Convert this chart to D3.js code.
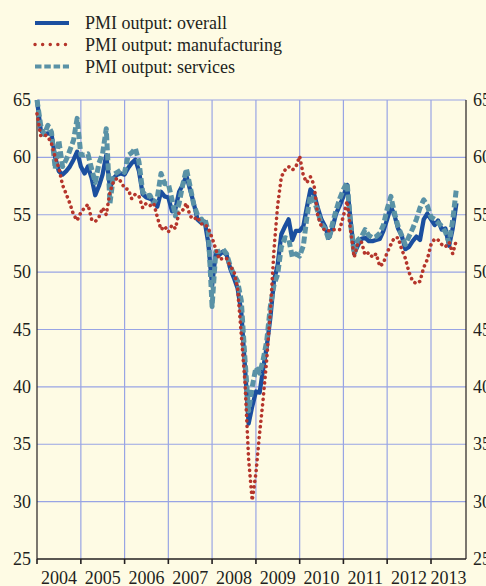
<!DOCTYPE html>
<html><head><meta charset="utf-8">
<script src="https://cdn.jsdelivr.net/npm/d3@7"></script>
<style>
html,body{margin:0;padding:0;background:#fefbe4;}
svg{display:block;}
text{font-family:"Liberation Serif","Times New Roman",serif;fill:#231f20;}
</style></head>
<body>
<div id="chart"></div>
<script>
// Monthly data, January 2004 onwards
const startYear = 2004, startMonth = 0;
const seriesNames = ["PMI output: overall", "PMI output: manufacturing", "PMI output: services"];
const overall = [
65.0,62.4,62.0,62.1,62.0,60.0,58.8,58.5,58.8,59.2,59.8,60.5,
59.2,58.6,59.2,58.2,56.7,57.5,58.5,60.2,57.3,58.2,58.5,58.6,
58.5,59.1,59.5,59.8,58.8,56.8,56.5,56.4,56.2,55.7,57.0,56.6,
56.5,55.3,55.5,57.0,57.6,58.4,57.2,56.0,54.6,54.3,54.4,52.5,
48.8,51.7,51.5,51.8,51.5,50.3,49.5,48.6,46.5,41.8,36.8,38.3,
39.6,39.5,41.5,43.5,46.0,49.3,50.6,53.3,54.0,54.6,52.8,53.6,
53.6,54.0,55.6,57.2,56.8,55.6,54.6,54.0,53.0,53.8,55.1,55.8,
56.6,57.6,54.6,51.6,52.3,52.9,53.0,52.7,52.7,52.8,52.9,53.6,
54.6,55.7,55.0,53.8,53.2,52.0,52.2,52.7,53.1,52.8,54.6,55.1,
54.6,54.1,54.5,53.7,53.8,52.3,53.8,56.0];
const manufacturing = [
63.8,61.9,62.0,61.8,61.2,60.0,59.1,57.6,56.8,56.0,55.0,54.5,
55.2,55.6,55.9,54.6,54.4,54.8,55.6,55.0,57.0,57.9,58.2,57.9,
57.3,57.2,56.4,56.8,56.6,55.6,56.0,55.8,56.0,54.8,53.7,54.0,
53.5,54.1,53.8,55.2,55.4,56.0,54.9,54.6,54.8,54.2,54.2,53.8,
53.0,52.0,51.1,51.2,51.2,50.5,50.1,48.6,44.5,40.5,33.7,30.1,
32.5,36.0,38.8,42.4,46.5,52.0,55.8,58.3,58.9,59.2,58.9,59.2,
60.1,58.4,57.8,58.3,57.6,54.9,54.0,53.6,53.6,53.7,53.7,53.7,
54.9,56.2,53.7,51.3,52.5,52.6,51.5,51.7,51.3,51.6,50.5,50.8,
51.7,52.4,53.0,53.0,52.0,51.2,50.0,49.2,49.0,49.2,50.4,51.1,
52.4,52.9,52.8,52.4,52.2,52.6,51.6,52.8];
const services = [
65.0,62.8,62.0,62.8,62.2,59.0,61.5,59.2,59.8,60.6,61.5,63.4,
60.2,60.2,60.3,59.0,57.8,59.5,60.3,62.5,56.0,58.5,58.7,58.9,
58.7,60.2,60.4,60.8,59.6,57.0,56.6,56.7,56.0,56.5,58.6,57.7,
57.7,56.3,54.9,56.0,57.6,59.0,57.5,55.9,55.0,54.5,54.7,53.5,
47.0,51.8,51.8,52.0,51.6,50.5,49.8,49.2,47.5,42.5,37.9,40.0,
41.7,41.2,42.3,44.0,47.0,48.9,49.8,52.2,53.0,52.9,51.3,51.6,
51.4,52.3,54.7,56.7,56.2,55.3,54.2,53.8,52.8,54.2,55.4,56.4,
57.2,57.8,54.3,51.6,52.8,53.1,53.7,53.2,53.0,53.1,53.4,54.1,
55.5,56.6,55.2,54.0,53.2,52.4,53.1,53.8,54.6,55.6,56.3,55.8,
54.8,54.6,54.3,54.0,53.5,52.6,54.5,57.3];
const yTicks = [25,30,35,40,45,50,55,60,65];
const yearLabels = ["2004","2005","2006","2007","2008","2009","2010","2011","2012","2013"];

const W = 486, H = 586;
const svg = d3.select("#chart").append("svg").attr("width", W).attr("height", H);
svg.append("rect").attr("width", W).attr("height", H).attr("fill", "#fefbe4");

const x = d3.scaleTime().domain([new Date(2004,0,1), new Date(2013,9,20)]).range([37, 466]);
const y = d3.scaleLinear().domain([25, 65]).range([559, 100]);

const dates = overall.map((_, i) => new Date(startYear, startMonth + i, 1));
const yearStarts = yearLabels.map(s => new Date(+s, 0, 1));

const grid = "#98a4e4";
// horizontal gridlines
svg.append("g").selectAll("line").data(yTicks.filter(t => t > 25)).join("line")
  .attr("x1", 37).attr("x2", 466).attr("y1", d => y(d)).attr("y2", d => y(d))
  .attr("stroke", grid).attr("stroke-width", 1.2);
// vertical gridlines
svg.append("g").selectAll("line").data(yearStarts.slice(1)).join("line")
  .attr("x1", d => x(d)).attr("x2", d => x(d)).attr("y1", 100).attr("y2", 559)
  .attr("stroke", grid).attr("stroke-width", 1.2);

// axes lines
const axisCol = "#231f20";
svg.append("line").attr("x1", 37).attr("x2", 37).attr("y1", 100).attr("y2", 559).attr("stroke", axisCol).attr("stroke-width", 1.2);
svg.append("line").attr("x1", 466).attr("x2", 466).attr("y1", 100).attr("y2", 559).attr("stroke", axisCol).attr("stroke-width", 1.2);
svg.append("line").attr("x1", 37).attr("x2", 466).attr("y1", 559).attr("y2", 559).attr("stroke", axisCol).attr("stroke-width", 1.5);

// bottom ticks
svg.append("g").selectAll("line").data(yearStarts).join("line")
  .attr("x1", d => x(d)).attr("x2", d => x(d)).attr("y1", 559).attr("y2", 564)
  .attr("stroke", axisCol).attr("stroke-width", 1.6);

// y labels left and right (right ones run off the page edge as in the original)
svg.append("g").selectAll("text").data(yTicks).join("text")
  .attr("x", 31).attr("y", d => y(d)).attr("dy", "0.34em").attr("text-anchor", "end")
  .attr("font-size", 18).text(d => d);
svg.append("g").selectAll("text").data(yTicks).join("text")
  .attr("x", 473).attr("y", d => y(d)).attr("dy", "0.34em").attr("text-anchor", "start")
  .attr("font-size", 18).text(d => d);

// x labels centred in each year
svg.append("g").selectAll("text").data(yearLabels).join("text")
  .attr("x", s => (x(new Date(+s,0,1)) + Math.min(466, x(new Date(+s+1,0,1)))) / 2)
  .attr("y", 584).attr("text-anchor", "middle").attr("font-size", 18).text(s => s);

// lines
const line = d3.line().x((d, i) => x(dates[i])).y(d => y(d));
const styles = [
  {data: overall, color: "#1b4f9f", width: 4.3, dash: null, cap: "butt"},
  {data: services, color: "#5a92a6", width: 5, dash: "7,3", cap: "butt"},
  {data: manufacturing, color: "#b5352b", width: 3.6, dash: "0.1,5.4", cap: "round"}
];
styles.forEach(s => {
  svg.append("path").datum(s.data).attr("d", line).attr("fill", "none")
    .attr("stroke", s.color).attr("stroke-width", s.width)
    .attr("stroke-linejoin", "round").attr("stroke-linecap", s.cap)
    .attr("stroke-dasharray", s.dash);
});

// legend
const legend = [
  {name: seriesNames[0], color: "#1b4f9f", width: 4, dash: null, cap: "butt", y: 23},
  {name: seriesNames[1], color: "#b5352b", width: 3.4, dash: "0.1,7.5", cap: "round", y: 44.5},
  {name: seriesNames[2], color: "#5a92a6", width: 4, dash: "6.5,2.8", cap: "butt", y: 66.5}
];
const lg = svg.append("g");
legend.forEach(l => {
  lg.append("line").attr("x1", 35).attr("x2", 69).attr("y1", l.y).attr("y2", l.y)
    .attr("stroke", l.color).attr("stroke-width", l.width)
    .attr("stroke-linecap", l.cap).attr("stroke-dasharray", l.dash);
  lg.append("text").attr("x", 85).attr("y", l.y + 6).attr("font-size", 18).text(l.name);
});
</script>
</body></html>
